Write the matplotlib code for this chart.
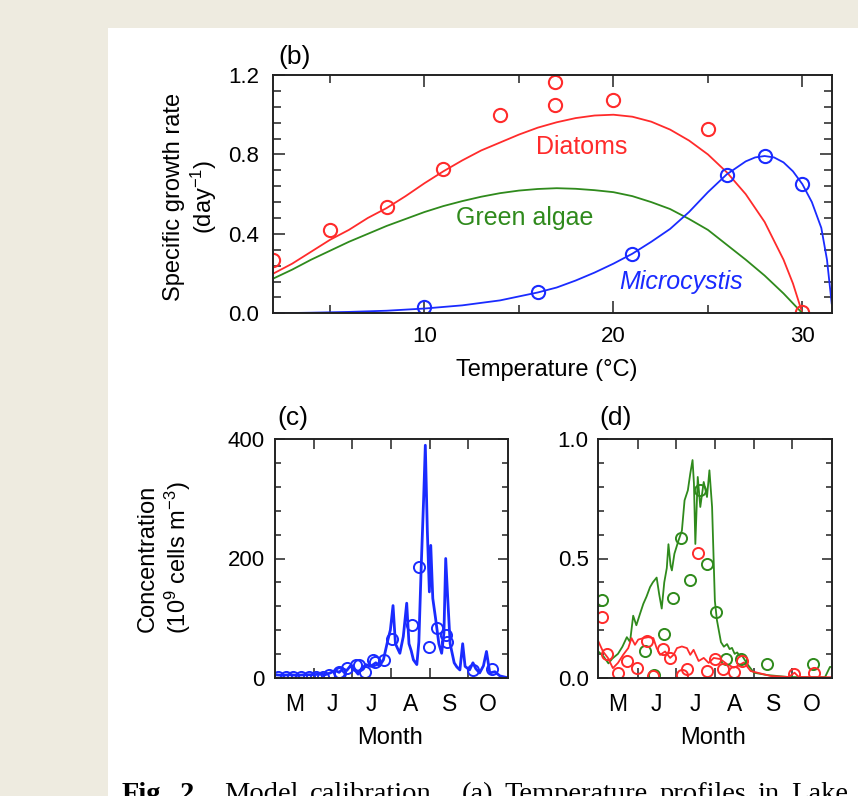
import matplotlib
matplotlib.use("Agg")
import matplotlib.pyplot as plt
from matplotlib.patches import Rectangle
from matplotlib.ticker import MultipleLocator, FixedLocator, NullFormatter, FixedFormatter

plt.rcParams['font.family'] = ['Liberation Sans', 'DejaVu Sans']
plt.rcParams['mathtext.fontset'] = 'custom'
plt.rcParams['mathtext.rm'] = 'Liberation Sans'
plt.rcParams['mathtext.it'] = 'Liberation Sans:italic'

# ---- panel (b): growth rate vs temperature ----
temp_obs_diatoms = [2, 5, 8, 11, 14, 16.9, 16.9, 20, 25, 30]
rate_obs_diatoms = [0.27, 0.42, 0.534, 0.727, 0.998, 1.166, 1.049, 1.074, 0.928, 0.005]
temp_obs_micro = [10, 16, 21, 26, 28, 30]
rate_obs_micro = [0.03, 0.109, 0.30, 0.696, 0.792, 0.65]

temp_fit = [2, 3, 4, 5, 6, 7, 8, 9, 10, 11, 12, 13, 14, 15, 16, 17, 18, 19, 20,
            21, 22, 23, 24, 25, 26, 27, 28, 29, 29.5, 30]
fit_diatoms = [0.20, 0.25, 0.31, 0.37, 0.42, 0.48, 0.53, 0.59, 0.655, 0.715, 0.77,
               0.82, 0.86, 0.90, 0.935, 0.962, 0.983, 0.996, 1.0, 0.99, 0.965,
               0.925, 0.87, 0.80, 0.71, 0.60, 0.46, 0.27, 0.15, 0.0]
fit_green = [0.175, 0.22, 0.27, 0.315, 0.36, 0.40, 0.44, 0.475, 0.51, 0.54, 0.565,
             0.587, 0.605, 0.618, 0.626, 0.63, 0.627, 0.62, 0.61, 0.59, 0.56,
             0.525, 0.475, 0.42, 0.345, 0.27, 0.19, 0.10, 0.05, 0.0]
temp_fit_micro = [2, 4, 6, 8, 10, 12, 14, 16, 17, 18, 19, 20, 21, 22, 23, 24, 25,
                  26, 27, 27.5, 28, 28.5, 29, 29.5, 30, 30.5, 31, 31.3, 31.55]
fit_micro = [0.0, 0.003, 0.007, 0.013, 0.024, 0.04, 0.065, 0.105, 0.13, 0.165,
             0.205, 0.25, 0.30, 0.36, 0.425, 0.51, 0.61, 0.70, 0.765, 0.785,
             0.792, 0.785, 0.76, 0.715, 0.65, 0.56, 0.43, 0.27, 0.05]

# ---- panel (c): Microcystis concentration (days since 1 May) ----
c_days = [0, 6, 12, 18, 24, 30, 36, 40, 44, 48, 51, 54, 57, 60, 63, 66, 69, 72, 76, 80,
          83, 86, 89.6, 91.5, 93.6, 95.5, 97, 99, 101.7, 104.4, 106.2, 108, 109.7, 112.4,
          114, 115.9, 117.8, 119.1, 120.7, 122.3, 123.4, 125, 127.1, 129.8, 132, 133.8,
          135.2, 136.8, 138.7, 141.9, 144, 146.4, 148.6, 150.5, 154, 156.7, 159, 162,
          165, 167.4, 170, 174, 178, 184]
c_vals = [5, 4, 5, 4, 5, 5, 6, 5, 8, 12, 9, 15, 12, 20, 14, 6, 15, 22, 19, 25,
          20, 30, 64, 80, 121, 57, 50, 41, 69, 125, 57, 45, 30, 22,
          60, 189, 302, 390, 246, 144, 222, 133, 101, 57, 41, 75,
          200, 133, 57, 25, 18, 13, 57, 19, 13, 25, 15, 8,
          20, 44, 8, 10, 3, 0]
c_obs_days = [3, 9, 15, 21, 27, 33, 38, 43, 50.6, 52, 57, 64, 66.5, 71.8, 77.5, 79, 86.5,
              93, 108.5, 113.8, 121.8, 128.2, 135.2, 136, 157, 171.4]
c_obs_vals = [2, 2, 2, 2, 2, 2, 2, 4, 10, 8, 17, 21, 21, 10, 30, 27, 29,
              65, 89, 186, 51, 83, 72, 60, 13, 14]

# ---- panel (d): green algae and diatoms ----
g_days = [0, 4, 8, 11, 15.5, 19, 22.5, 25, 27.5, 30, 33, 35.5, 38, 40.8, 43, 46, 48, 50,
          52, 54, 55.3, 57, 58, 60, 63.2, 65.9, 68, 70.6, 72.5, 74.3, 75.4, 76.5, 78.4,
          80.4, 83.1, 85.7, 87.6, 89.7, 91.9, 93.5, 96.7, 99, 101.5, 103.5, 105.4, 107.5,
          109.5, 111.5, 113.4, 117.5, 122.7, 133.4, 149.4, 160, 178.7, 182.6, 184]
g_vals = [0.11, 0.09, 0.06, 0.08, 0.10, 0.13, 0.17, 0.15, 0.26, 0.22, 0.27, 0.31, 0.34,
          0.38, 0.40, 0.42, 0.35, 0.29, 0.40, 0.46, 0.56, 0.47, 0.45, 0.52, 0.575, 0.617,
          0.744, 0.786, 0.856, 0.913, 0.814, 0.561, 0.842, 0.716, 0.821, 0.758, 0.87,
          0.716, 0.322, 0.242, 0.149, 0.13, 0.141, 0.12, 0.125, 0.10, 0.106, 0.09, 0.092,
          0.057, 0.021, 0.011, 0.003, 0.002, 0.002, 0.045, 0.045]
r_days = [0, 3.7, 7.6, 11.5, 15.5, 19.6, 23.6, 26.2, 28.9, 31.5, 35.5, 39.4, 43.4, 46,
          48.7, 52.7, 56.6, 59.3, 62, 65.9, 69.9, 72.5, 75.1, 79.1, 83.1, 87, 91, 96.2,
          101.5, 106.8, 110, 114.8, 120.1, 125.4, 136, 150, 154.7, 158, 184]
r_vals = [0.153, 0.11, 0.083, 0.04, 0.062, 0.096, 0.124, 0.166, 0.138, 0.16, 0.166,
          0.17, 0.166, 0.124, 0.096, 0.11, 0.083, 0.096, 0.124, 0.131, 0.124, 0.096,
          0.117, 0.07, 0.083, 0.062, 0.083, 0.078, 0.057, 0.042, 0.05, 0.064, 0.028,
          0.021, 0.007, 0.003, 0.021, 0.003, 0.002]
g_obs_days = [2.7, 36.8, 44, 51.5, 58.7, 65.5, 72, 80.5, 86, 92.6, 100.7, 112.3, 133.2, 169.5]
g_obs_vals = [0.328, 0.113, 0.011, 0.183, 0.334, 0.588, 0.408, 0.787, 0.475, 0.277,
              0.08, 0.08, 0.057, 0.058]
r_obs_days = [2.7, 7.1, 15.7, 22.4, 30.2, 38.2, 43.4, 51.4, 56.5, 65.6, 69.8, 78.9,
              85.7, 92.3, 98, 106.8, 113.4, 154, 170]
r_obs_vals = [0.254, 0.099, 0.02, 0.071, 0.04, 0.155, 0.008, 0.12, 0.082, 0.011, 0.036,
              0.522, 0.03, 0.078, 0.035, 0.026, 0.072, 0.016, 0.018]

month_edges = [31, 61, 92, 123, 153]
month_mids = [15.5, 46, 76.5, 107.5, 138, 168.5]
month_labels = ['M', 'J', 'J', 'A', 'S', 'O']

caption_words = ['Fig.', '2.', 'Model', 'calibration.', '(a)', 'Temperature',
                 'profiles', 'in', 'Lake']
# relative width of the space after each word (sentence ends get a wider one)
caption_gaps = [1, 2, 1, 2, 1, 1, 1, 1]

RED = '#ff2b2b'
GREEN = '#2f8a1c'
BLUE = '#1a2bff'
TICK_FS = 16
LABEL_FS = 17
NAME_FS = 18

W, H = 858, 796
fig = plt.figure(figsize=(W / 100, H / 100), dpi=100, facecolor='#eeebe0')
fig.patches.append(Rectangle((108 / W, 0), 1 - 108 / W, 1 - 28 / H,
                             transform=fig.transFigure, facecolor='white',
                             edgecolor='none', zorder=-10))


def px_axes(left, top, right, bottom):
    return fig.add_axes([left / W, 1 - bottom / H, (right - left) / W, (bottom - top) / H])


def style(ax, major, minor):
    for s in ax.spines.values():
        s.set_linewidth(1.4)
        s.set_color('#222222')
    ax.tick_params(which='both', direction='in', top=True, right=True,
                   width=1.1, color='#222222', labelsize=TICK_FS)
    ax.tick_params(which='major', length=major)
    ax.tick_params(which='minor', length=minor)


# panel (b)
axb = px_axes(273.3, 75, 831.7, 313.3)
axb.plot(temp_fit, fit_diatoms, color=RED, lw=1.3)
axb.plot(temp_fit, fit_green, color=GREEN, lw=1.3)
axb.plot(temp_fit_micro, fit_micro, color=BLUE, lw=1.3)
axb.plot(temp_obs_diatoms, rate_obs_diatoms, 'o', mfc='none', mec=RED, ms=9.5, mew=1.5)
axb.plot(temp_obs_micro, rate_obs_micro, 'o', mfc='none', mec=BLUE, ms=9.5, mew=1.5)
axb.set_xlim(2, 31.55)
axb.set_ylim(0, 1.2)
axb.xaxis.set_major_locator(FixedLocator([10, 20, 30]))
axb.xaxis.set_minor_locator(FixedLocator([5, 15, 25]))
axb.yaxis.set_major_locator(MultipleLocator(0.4))
axb.yaxis.set_minor_locator(MultipleLocator(0.08))
axb.yaxis.set_major_formatter(plt.FuncFormatter(lambda v, p: f'{v:.1f}'))
style(axb, 8.5, 5.5)
axb.tick_params(axis='x', pad=9)
axb.tick_params(axis='y', pad=10)
axb.text(18.3, 0.837, 'Diatoms', color=RED, fontsize=NAME_FS, ha='center', va='center')
axb.text(15.3, 0.48, 'Green algae', color=GREEN, fontsize=NAME_FS, ha='center', va='center')
axb.text(23.6, 0.158, 'Microcystis', color=BLUE, fontsize=NAME_FS, ha='center', va='center',
         style='italic')

# panel (c)
axc = px_axes(274.5, 439.3, 507.5, 677.7)
axc.plot(c_days, c_vals, color=BLUE, lw=2.0)
axc.plot(c_obs_days, c_obs_vals, 'o', mfc='none', mec=BLUE, ms=8, mew=1.4)
axc.set_xlim(0, 184)
axc.set_ylim(0, 400)
axc.yaxis.set_major_locator(MultipleLocator(200))
axc.yaxis.set_minor_locator(MultipleLocator(40))

# panel (d)
axd = px_axes(598.3, 439.3, 831.7, 677.7)
axd.plot(g_days, g_vals, color=GREEN, lw=1.3)
axd.plot(r_days, r_vals, color=RED, lw=1.3)
axd.plot(g_obs_days, g_obs_vals, 'o', mfc='none', mec=GREEN, ms=8, mew=1.4)
axd.plot(r_obs_days, r_obs_vals, 'o', mfc='none', mec=RED, ms=8, mew=1.4)
axd.set_xlim(0, 184)
axd.set_ylim(0, 1.0)
axd.yaxis.set_major_locator(MultipleLocator(0.5))
axd.yaxis.set_minor_locator(MultipleLocator(0.1))
axd.yaxis.set_major_formatter(plt.FuncFormatter(lambda v, p: f'{v:.1f}'))

for ax in (axc, axd):
    style(ax, 7, 4.5)
    ax.xaxis.set_major_locator(FixedLocator(month_edges))
    ax.xaxis.set_major_formatter(NullFormatter())
    ax.xaxis.set_minor_locator(FixedLocator(month_mids))
    ax.xaxis.set_minor_formatter(FixedFormatter(month_labels))
    ax.tick_params(axis='x', which='minor', length=0, pad=11, labelsize=TICK_FS + 0.5)
    ax.tick_params(axis='y', which='minor', left=True, right=True)
    ax.tick_params(axis='y', pad=7)

# text around the panels
fig.text(278 / W, 1 - 57 / H, '(b)', fontsize=19, ha='left', va='center')
fig.text(277 / W, 1 - 418 / H, '(c)', fontsize=19, ha='left', va='center')
fig.text(599 / W, 1 - 418 / H, '(d)', fontsize=19, ha='left', va='center')
fig.text(191 / W, 1 - 197 / H, 'Specific growth rate\n(day$^{-1}$)', fontsize=LABEL_FS,
         rotation=90, ha='center', va='center', multialignment='center', linespacing=1.2)
fig.text(547 / W, 1 - 370 / H, 'Temperature (°C)', fontsize=LABEL_FS, ha='center', va='center')
fig.text(165 / W, 1 - 558 / H, 'Concentration\n(10$^{9}$ cells m$^{-3}$)', fontsize=LABEL_FS,
         rotation=90, ha='center', va='center', multialignment='center', linespacing=1.2)
fig.text(390 / W, 1 - 738 / H, 'Month', fontsize=LABEL_FS, ha='center', va='center')
fig.text(713 / W, 1 - 738 / H, 'Month', fontsize=LABEL_FS, ha='center', va='center')

# caption line, justified between the page margins and cut off at the bottom
cap_texts = [fig.text(0, 1 - 801 / H, word, fontsize=20.5, ha='left', va='baseline',
                      family=['Liberation Serif', 'DejaVu Serif'],
                      weight='bold' if i < 2 else 'normal')
             for i, word in enumerate(caption_words)]
renderer = fig.canvas.get_renderer()
widths = [t.get_window_extent(renderer).width for t in cap_texts]
unit = (848 - 122 - sum(widths)) / sum(caption_gaps)
x = 122
for i, (t, w) in enumerate(zip(cap_texts, widths)):
    t.set_x(x / W)
    if i < len(caption_gaps):
        x += w + unit * caption_gaps[i]

fig.savefig('out.png', dpi=100, facecolor=fig.get_facecolor())
